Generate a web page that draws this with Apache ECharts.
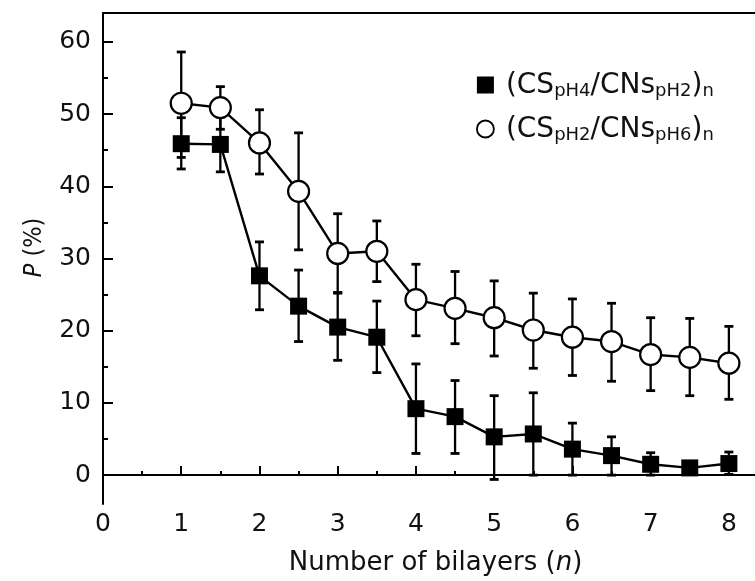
<!DOCTYPE html>
<html><head><meta charset="utf-8">
<script src="https://cdn.jsdelivr.net/npm/echarts@6/dist/echarts.min.js"></script>
<style>html,body{margin:0;padding:0;background:#fff}#c{width:755px;height:581px}</style>
</head><body><div id="c"></div>
<script>
// ---- data ----
const bilayers = [1, 1.5, 2, 2.5, 3, 3.5, 4, 4.5, 5, 5.5, 6, 6.5, 7, 7.5, 8];
const seriesNames = ['(CS pH4/CNs pH2) n', '(CS pH2/CNs pH6) n'];
const legendParts = [
  ['(CS', 'pH4', '/CNs', 'pH2', ')', 'n'],
  ['(CS', 'pH2', '/CNs', 'pH6', ')', 'n']
];
const pSquare     = [45.9, 45.8, 27.6, 23.4, 20.5, 19.1, 9.2, 8.1, 5.3, 5.7, 3.6, 2.7, 1.5, 1.0, 1.6];
const pSquareLow  = [42.4, 42.0, 22.9, 18.5, 15.9, 14.2, 3.0, 3.0, -0.6, 0.0, 0.0, 0.0, 0.0, 1.0, 0.1];
const pSquareHigh = [49.5, 49.6, 32.3, 28.4, 25.2, 24.1, 15.4, 13.1, 11.0, 11.4, 7.2, 5.3, 3.1, 1.0, 3.2];
const pCircle     = [51.5, 50.9, 46.0, 39.3, 30.7, 31.0, 24.3, 23.1, 21.8, 20.1, 19.1, 18.5, 16.7, 16.3, 15.5];
const pCircleLow  = [44.0, 47.9, 41.7, 31.2, 25.3, 26.8, 19.3, 18.2, 16.5, 14.8, 13.8, 13.0, 11.7, 11.0, 10.5];
const pCircleHigh = [58.6, 53.8, 50.6, 47.4, 36.2, 35.2, 29.2, 28.2, 26.9, 25.2, 24.4, 23.8, 21.8, 21.7, 20.6];
const xTicks = [0, 1, 2, 3, 4, 5, 6, 7, 8];
const xMinorTicks = [0.5, 1.5, 2.5, 3.5, 4.5, 5.5, 6.5, 7.5];
const yTicks = [0, 10, 20, 30, 40, 50, 60];
const yMinorTicks = [5, 15, 25, 35, 45, 55];

// ---- chart ----
const FONT = "'DejaVu Sans', 'Liberation Sans', sans-serif";
const NARROW = "'Liberation Sans Narrow', 'DejaVu Sans Condensed', 'Liberation Sans', sans-serif";
const chart = echarts.init(document.getElementById('c'), null, {renderer: 'canvas'});
const pairs = (ys) => bilayers.map((x, i) => [x, ys[i]]);
const errData = (lo, hi) => bilayers.map((x, i) => [x, lo[i], hi[i]]);

function errRender(params, api) {
  const x = api.value(0), lo = api.value(1), hi = api.value(2);
  const p1 = api.coord([x, hi]), p2 = api.coord([x, lo]);
  const hw = 4.5;
  const st = {stroke: '#000', lineWidth: 2.3};
  const cap = {stroke: '#000', lineWidth: 2.8};
  return {type: 'group', children: [
    {type: 'line', shape: {x1: p1[0], y1: p1[1], x2: p2[0], y2: p2[1]}, style: st},
    {type: 'line', shape: {x1: p1[0] - hw, y1: p1[1], x2: p1[0] + hw, y2: p1[1]}, style: cap},
    {type: 'line', shape: {x1: p2[0] - hw, y1: p2[1], x2: p2[0] + hw, y2: p2[1]}, style: cap}
  ]};
}

const axisLine = {show: true, lineStyle: {color: '#000', width: 2}};
const XMIN = 0, XMAX = 8.5, YMIN = -4, YMAX = 64;

chart.setOption({
  animation: false,
  backgroundColor: '#fff',
  grid: {left: 103, top: 13, width: 665, height: 491, outerBoundsMode: 'none', containLabel: false},
  legend: {
    orient: 'vertical', left: 471, top: 67, itemGap: 16,
    itemWidth: 17, itemHeight: 17,
    data: [
      {name: seriesNames[0], icon: 'rect', itemStyle: {color: '#000', borderWidth: 0}},
      {name: seriesNames[1], icon: 'circle', itemStyle: {color: '#fff', borderColor: '#000', borderWidth: 1.8}}
    ],
    formatter: (name) => {
      const p = legendParts[seriesNames.indexOf(name)];
      return `{m|${p[0]}}{s|${p[1]}}{m|${p[2]}}{s|${p[3]}}{m|${p[4]}}{s|${p[5]}}`;
    },
    textStyle: {
      padding: [0, 0, 0, 7],
      rich: {
        m: {fontFamily: FONT, fontSize: 28, color: '#111', lineHeight: 30, verticalAlign: 'bottom'},
        s: {fontFamily: FONT, fontSize: 18, color: '#111', lineHeight: 13, verticalAlign: 'bottom'}
      }
    }
  },
  xAxis: [
    {type: 'value', min: XMIN, max: XMAX, position: 'bottom', offset: 0,
     axisLine, splitLine: {show: false},
     axisTick: {show: true, inside: true, length: 9, customValues: xTicks, lineStyle: {color: '#000', width: 2}},
     axisLabel: {customValues: xTicks, fontFamily: FONT, fontSize: 25, color: '#111', margin: 8},
     name: 'Number of bilayers ({i|n})', nameLocation: 'middle', nameGap: 46,
     nameTextStyle: {fontFamily: FONT, fontSize: 26, color: '#111',
       rich: {i: {fontFamily: FONT, fontSize: 26, color: '#111', fontStyle: 'italic'}}}},
    {type: 'value', min: XMIN, max: XMAX, position: 'bottom', offset: 0,
     axisLine: {show: false}, splitLine: {show: false},
     axisTick: {show: true, inside: true, length: 4, customValues: xMinorTicks, lineStyle: {color: '#000', width: 2}},
     axisLabel: {show: false}},
    {type: 'value', min: XMIN, max: XMAX, position: 'top', offset: 0,
     axisLine, splitLine: {show: false}, axisTick: {show: false}, axisLabel: {show: false}}
  ],
  yAxis: [
    {type: 'value', min: YMIN, max: YMAX, position: 'left', offset: 0,
     axisLine, splitLine: {show: false},
     axisTick: {show: true, inside: true, length: 10, customValues: yTicks, lineStyle: {color: '#000', width: 2}},
     axisLabel: {customValues: yTicks, fontFamily: FONT, fontSize: 25, color: '#111', margin: 12},
     name: '{i|P} (%)', nameLocation: 'middle', nameGap: 56, nameRotate: 90,
     nameTextStyle: {fontFamily: NARROW, fontSize: 25, color: '#111', padding: [0, 0, 0, 22],
       rich: {i: {fontFamily: NARROW, fontSize: 25, color: '#111', fontStyle: 'italic'}}}},
    {type: 'value', min: YMIN, max: YMAX, position: 'left', offset: 0,
     axisLine: {show: false}, splitLine: {show: false},
     axisTick: {show: true, inside: true, length: 5, customValues: yMinorTicks, lineStyle: {color: '#000', width: 2}},
     axisLabel: {show: false}}
  ],
  series: [
    {type: 'custom', name: seriesNames[0] + ' err', renderItem: errRender, data: errData(pSquareLow, pSquareHigh),
     encode: {x: 0, y: [1, 2]}, z: 2, silent: true},
    {type: 'line', name: seriesNames[0], data: pairs(pSquare), symbol: 'rect', symbolSize: 17,
     lineStyle: {color: '#000', width: 2.4}, itemStyle: {color: '#000'}, z: 3},
    {type: 'custom', name: seriesNames[1] + ' err', renderItem: errRender, data: errData(pCircleLow, pCircleHigh),
     encode: {x: 0, y: [1, 2]}, z: 4, silent: true},
    {type: 'line', name: seriesNames[1], data: pairs(pCircle), symbol: 'circle', symbolSize: 21,
     lineStyle: {color: '#000', width: 2.4}, itemStyle: {color: '#fff', borderColor: '#000', borderWidth: 2.2}, z: 5}
  ]
});
</script></body></html>
